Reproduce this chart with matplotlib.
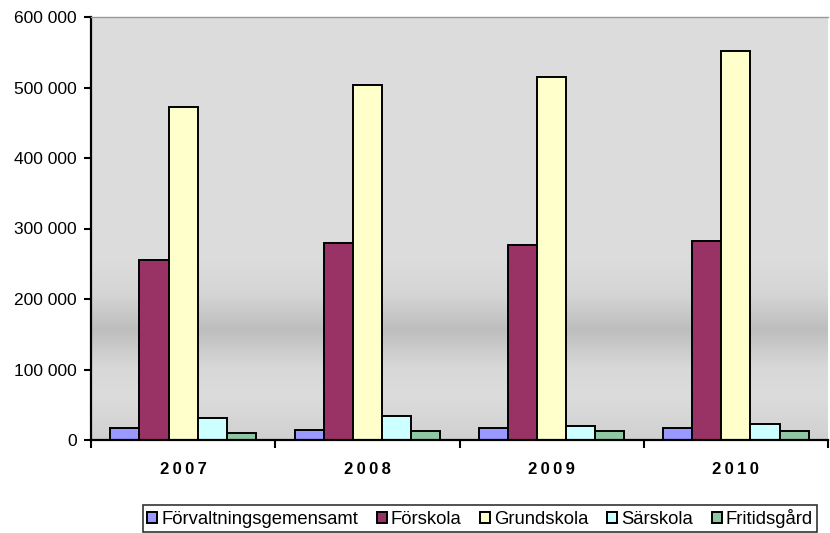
import numpy as np
import matplotlib
matplotlib.use('Agg')
import matplotlib.pyplot as plt
from matplotlib.colors import LinearSegmentedColormap
from matplotlib.ticker import FuncFormatter, FixedLocator

plt.rcParams['font.family'] = ['Liberation Sans', 'DejaVu Sans']

# Data
years = ['2007', '2008', '2009', '2010']
series = ['Förvaltningsgemensamt', 'Förskola', 'Grundskola', 'Särskola', 'Fritidsgård']
forvaltning = [17000, 14500, 17000, 17000]
forskola = [256000, 279000, 277000, 282000]
grundskola = [472000, 503000, 515000, 552000]
sarskola = [31500, 34500, 20000, 23000]
fritidsgard = [10000, 12500, 12500, 12500]
colors = ['#9999ff', '#993366', '#ffffcc', '#ccffff', '#8fc7a5']

values = [forvaltning, forskola, grundskola, sarskola, fritidsgard]

fig = plt.figure(figsize=(8.3, 5.33), dpi=100)
ax = fig.add_axes([91/830, 93/533, 737/830, 423/533])

# gradient background (0 = bottom)
stops = [(0.0, '#d0d0d0'), (0.10, '#dcdcdc'), (0.17, '#d8d8d8'),
         (0.26, '#bebebe'), (0.34, '#d4d4d4'), (0.42, '#dcdcdc'), (1.0, '#dddddd')]
cmap = LinearSegmentedColormap.from_list('bg', stops)
grad = np.linspace(0, 1, 256).reshape(-1, 1)
ax.imshow(grad, cmap=cmap, aspect='auto', extent=[0, 1, 0, 1],
          transform=ax.transAxes, zorder=0, origin='lower')

x = np.arange(len(years))
w = 0.158
for i, (name, vals, c) in enumerate(zip(series, values, colors)):
    ax.bar(x + (i - 2) * w, vals, w, color=c, edgecolor='black',
           linewidth=1.4, label=name, zorder=2)

ax.set_xlim(-0.5, 3.5)
ax.set_ylim(0, 600000)
ax.set_yticks(np.arange(0, 600001, 100000))
ax.yaxis.set_major_formatter(FuncFormatter(lambda v, p: f'{int(v):,}'.replace(',', ' ')))
ax.set_xticks(x)
ax.set_xticklabels(['\u2009'.join(y) for y in years], fontweight='bold', fontsize=12)
ax.xaxis.set_minor_locator(FixedLocator(np.arange(-0.5, 4, 1)))
ax.tick_params(axis='x', which='major', length=0, pad=16)
ax.tick_params(axis='x', which='minor', length=6, width=1.5, direction='out')
ax.tick_params(axis='y', length=5, width=1.5, direction='out', labelsize=12.5, pad=5)

ax.spines['left'].set_linewidth(1.6)
ax.spines['bottom'].set_linewidth(1.6)
ax.spines['top'].set_color('#999999')
ax.spines['top'].set_linewidth(1)
ax.spines['right'].set_visible(False)

leg = fig.legend(loc='center', bbox_to_anchor=(480/830, 1 - 518.5/533), ncol=5,
                 frameon=True, fancybox=False, edgecolor='black', fontsize=13.3,
                 handlelength=0.55, handleheight=0.55, handletextpad=0.22,
                 columnspacing=1.0, borderpad=0.2, borderaxespad=0)
leg.get_frame().set_linewidth(1.2)

fig.savefig('out.png', dpi=100)
